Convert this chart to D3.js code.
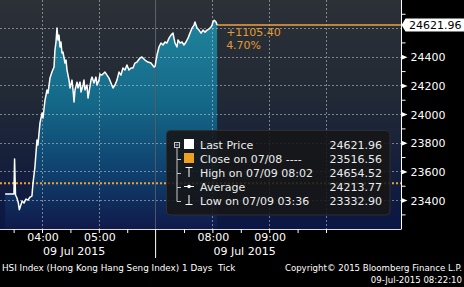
<!DOCTYPE html>
<html><head><meta charset="utf-8">
<script src="https://cdn.jsdelivr.net/npm/d3@7"></script>
<style>html,body{margin:0;padding:0;background:#000;overflow:hidden}svg{display:block}</style>
</head><body><svg id="c" width="464" height="287"></svg>
<script>
// ---- data ----
const morningTimes = ["03:21:00","03:30:20","03:31:00","03:32:00","03:33:30","03:35:00","03:36:00","03:39:00","03:41:00","03:43:00","03:45:10","03:47:20","03:49:20","03:50:30","03:52:30","03:54:40","03:55:40","03:57:50","04:00:00","04:01:00","04:03:10","04:05:15","04:06:20","04:08:25","04:10:30","04:12:40","04:13:40","04:14:45","04:15:50","04:16:50","04:17:55","04:19:00","04:20:00","04:21:05","04:22:10","04:24:15","04:25:20","04:26:25","04:28:30","04:29:35","04:31:40","04:32:45","04:33:50","04:34:50","04:37:00","04:38:00","04:40:10","04:41:10","04:43:20","04:44:20","04:45:25","04:47:30","04:48:35","04:49:40","04:51:45","04:52:50","04:54:55","04:57:00","04:58:05","05:00:10","05:01:15","05:03:20","05:06:30","05:08:40","05:10:45","05:12:50","05:15:00","05:17:05","05:19:10","05:21:20","05:23:25","05:25:30","05:27:40","05:29:45","05:31:50","05:34:00","05:36:05","05:38:10","05:40:20","05:43:30","05:45:35","05:48:45","05:51:55","05:55:05","05:58:15","05:59:30"];
const morningPrices = [23442,23442,23686,23435,23414,23379,23332.9,23393,23379,23407,23400,23421,23428,23519,23630,23819,23784,23937,24007,23972,24098,24168,24146,24251,24293,24328,24447,24503,24600,24517,24551,24468,24503,24426,24433,24356,24377,24307,24237,24182,24237,24168,24084,24168,24223,24182,24223,24154,24203,24237,24168,24203,24112,24154,24237,24258,24217,24258,24203,24237,24279,24272,24293,24272,24251,24217,24182,24203,24237,24293,24272,24321,24307,24342,24307,24321,24321,24356,24363,24391,24398,24377,24363,24356,24328,24335];
const afternoonTimes = ["07:00:30","07:01:30","07:03:35","07:05:40","07:07:50","07:09:55","07:12:00","07:14:10","07:16:15","07:18:25","07:19:25","07:20:30","07:22:35","07:23:40","07:25:45","07:27:55","07:30:00","07:32:05","07:34:15","07:36:20","07:38:30","07:40:35","07:41:35","07:43:45","07:45:50","07:48:00","07:50:05","07:52:10","07:54:20","07:56:25","07:58:30","07:59:35","08:00:35","08:02:00","08:03:50","08:05:00"];
const afternoonPrices = [24377,24412,24468,24496,24482,24503,24496,24530,24551,24565,24530,24496,24468,24517,24496,24503,24482,24503,24530,24565,24600,24621,24642,24600,24586,24565,24586,24572,24586,24593,24607,24621,24642,24654.52,24642,24621.96];

const prevClose = 23516.56;
const lastPrice = 24621.96;
const changeLabels = ["+1105.40", "4.70%"];
const yMajorTicks = [23400,23600,23800,24000,24200,24400,24600];
const yMinorTicks = [23300,23500,23700,23900,24100,24300,24500,24700];
const xGridTimes = ["04:00:00","05:00:00","08:00:00","09:00:00","10:00:00"];
const xTickTimes = ["03:30:00","04:00:00","04:30:00","05:00:00","05:30:00","07:30:00","08:00:00","08:30:00","09:00:00","09:30:00","10:00:00"];
const xLabelTimes = ["04:00:00","05:00:00","08:00:00","09:00:00"];
const xLabels = ["04:00","05:00","08:00","09:00"];
const dateLabelTimes = ["04:00:00","08:00:00"];
const dateLabel = "09 Jul 2015";
const legendLabels = ["Last Price","Close on 07/08 ----","High on 07/09 08:02","Average","Low on 07/09 03:36"];
const legendValues = ["24621.96","23516.56","24654.52","24213.77","23332.90"];
const footerLeft = "HSI Index (Hong Kong Hang Seng Index) 1 Days  Tick";
const footerRight = ["Copyright\u00A9 2015 Bloomberg Finance L.P.","09-Jul-2015 08:22:10"];

// ---- setup ----
const svg = d3.select("#c");
const FONT = "'DejaVu Sans', Verdana, sans-serif";
const PB = 229, PR = 401.5;
const parse = d3.timeParse("%H:%M:%S");
const x = d3.scaleTime()
  .domain([parse("03:15:36"), parse("06:00:00"), parse("07:00:00"), parse("11:20:18")])
  .range([0, 155.6, 155.6, 402]);
const y = d3.scaleLinear().domain([23198, 24796]).range([PB, 0]);

const morning = morningTimes.map((t,i)=>({t:parse(t), v:morningPrices[i]}));
const afternoon = afternoonTimes.map((t,i)=>({t:parse(t), v:afternoonPrices[i]}));
const all = morning.concat(afternoon);
const last = afternoon[afternoon.length-1];

svg.append("rect").attr("width",464).attr("height",287).attr("fill","#000");

const defs = svg.append("defs");
const bg = defs.append("linearGradient").attr("id","bg").attr("gradientUnits","userSpaceOnUse")
  .attr("x1",0).attr("y1",0).attr("x2",0).attr("y2",PB);
[[0,"#2c3037"],[0.4,"#222a35"],[0.75,"#141e3c"],[1,"#0a1745"]].forEach(s=>bg.append("stop").attr("offset",s[0]).attr("stop-color",s[1]));
const fg = defs.append("linearGradient").attr("id","fg").attr("gradientUnits","userSpaceOnUse")
  .attr("x1",0).attr("y1",0).attr("x2",0).attr("y2",PB);
[[0,"#228aa0"],[0.45,"#146888"],[0.75,"#0f416e"],[1,"#101a4a"]].forEach(s=>fg.append("stop").attr("offset",s[0]).attr("stop-color",s[1]));
defs.append("clipPath").attr("id","clip").append("rect").attr("x",0).attr("y",0).attr("width",PR).attr("height",PB);

const g = svg.append("g").attr("clip-path","url(#clip)");
g.append("rect").attr("x",0).attr("y",0).attr("width",PR).attr("height",PB).attr("fill","url(#bg)");
// session break line
g.append("line").attr("x1",x(parse("06:00:00"))).attr("x2",x(parse("06:00:00"))).attr("y1",0).attr("y2",PB)
  .attr("stroke","#5f646c").attr("stroke-width",1);

const area = d3.area().x(d=>x(d.t)).y0(PB).y1(d=>y(d.v));
g.append("path").datum(morning).attr("d",area).attr("fill","url(#fg)");
g.append("path").datum(afternoon).attr("d",area).attr("fill","url(#fg)");

// grid
g.selectAll(".hg").data(yMajorTicks).join("line")
  .attr("x1",0).attr("x2",PR).attr("y1",d=>Math.round(y(d))+0.5).attr("y2",d=>Math.round(y(d))+0.5)
  .attr("stroke","rgba(200,205,210,0.55)").attr("stroke-dasharray","2,2");
g.selectAll(".vg").data(xGridTimes).join("line")
  .attr("x1",d=>Math.round(x(parse(d)))+0.5).attr("x2",d=>Math.round(x(parse(d)))+0.5).attr("y1",0).attr("y2",PB)
  .attr("stroke","rgba(200,205,210,0.55)").attr("stroke-dasharray","2,2");

// previous close
g.append("line").attr("x1",0).attr("x2",PR).attr("y1",y(prevClose)).attr("y2",y(prevClose))
  .attr("stroke","#f0a030").attr("stroke-width",2).attr("stroke-dasharray","2,2");

// last price line
g.append("line").attr("x1",x(last.t)).attr("x2",PR).attr("y1",y(lastPrice)).attr("y2",y(lastPrice))
  .attr("stroke","#f2a23a").attr("stroke-width",1.6);

// price line
g.append("path").datum(all).attr("d",d3.line().x(d=>x(d.t)).y(d=>y(d.v)))
  .attr("fill","none").attr("stroke","#ffffff").attr("stroke-width",1.5).attr("stroke-linejoin","round");

changeLabels.forEach((t,i)=>{
  svg.append("text").attr("x",x(last.t)+9).attr("y",36+i*13).attr("fill","#e39b32")
    .attr("font-family",FONT).attr("font-size",11).text(t);
});

// right axis
svg.append("line").attr("x1",PR).attr("x2",PR).attr("y1",0).attr("y2",PB).attr("stroke","#fff").attr("stroke-width",1);
const minorAx = svg.append("g").attr("transform",`translate(${PR},0)`)
  .call(d3.axisRight(y).tickValues(yMinorTicks).tickSize(4).tickFormat(""));
minorAx.select(".domain").remove();
minorAx.selectAll("line").attr("stroke","#fff");
const majorAx = svg.append("g").attr("transform",`translate(${PR},0)`)
  .call(d3.axisRight(y).tickValues(yMajorTicks.filter(v=>v!==24600)).tickSize(0).tickPadding(9).tickFormat(d3.format("d")));
majorAx.select(".domain").remove();
majorAx.selectAll("text").attr("fill","#fff").attr("font-family",FONT).attr("font-size",11).attr("dy","0.36em");
majorAx.selectAll(".tick").append("path").attr("d","M0,-2.5L6,0L0,2.5Z").attr("fill","#fff");

// last price tag
const ly = y(lastPrice);
svg.append("path").attr("d",`M${PR},${ly}L${PR+4},${ly-6.5}L464,${ly-6.5}L464,${ly+6.5}L${PR+4},${ly+6.5}Z`).attr("fill","#fff");
svg.append("text").attr("x",PR+7.5).attr("y",ly).attr("dy","0.36em").attr("fill","#000")
  .attr("font-family",FONT).attr("font-size",11).text(lastPrice.toFixed(2));

// bottom axis
svg.append("line").attr("x1",0).attr("x2",PR).attr("y1",PB+0.5).attr("y2",PB+0.5).attr("stroke","#ddd");
const xAx = svg.append("g").attr("transform",`translate(0,${PB})`)
  .call(d3.axisBottom(x).tickValues(xTickTimes.map(parse)).tickSize(4).tickFormat(""));
xAx.select(".domain").remove();
xAx.selectAll("line").attr("stroke","#fff");
svg.append("line").attr("x1",x(parse("06:00:00"))).attr("x2",x(parse("06:00:00"))).attr("y1",PB).attr("y2",258).attr("stroke","#fff");
svg.selectAll(".xl").data(xLabelTimes).join("text")
  .attr("x",d=>x(parse(d))+1).attr("y",241).attr("text-anchor","middle").attr("fill","#fff")
  .attr("font-family",FONT).attr("font-size",11).text((d,i)=>xLabels[i]);
svg.selectAll(".dl").data(dateLabelTimes).join("text")
  .attr("x",d=>x(parse(d))+1).attr("y",255).attr("fill","#fff")
  .attr("font-family",FONT).attr("font-size",11).text(dateLabel);

// footer
svg.append("text").attr("x",2).attr("y",271).attr("fill","#fff").attr("font-family",FONT).attr("font-size",8.8)
  .attr("xml:space","preserve").style("white-space","pre").text(footerLeft);
footerRight.forEach((t,i)=>svg.append("text").attr("x",462).attr("y",271+i*12).attr("text-anchor","end")
  .attr("fill","#fff").attr("font-family",FONT).attr("font-size",8.6).text(t));

// legend
const L = svg.append("g");
L.append("rect").attr("x",166.5).attr("y",130.5).attr("width",223.5).attr("height",84.5).attr("rx",4)
  .attr("fill","rgba(22,22,22,0.88)").attr("stroke","#2e2e2e");
const rowY = i => 149 + i*14;
const tc = "#c8c8c8";
// tree
L.append("rect").attr("x",174.5).attr("y",142.5).attr("width",5).attr("height",5).attr("fill","none").attr("stroke",tc);
L.append("line").attr("x1",175.5).attr("x2",178.5).attr("y1",145).attr("y2",145).attr("stroke",tc);
L.append("line").attr("x1",177).attr("x2",177).attr("y1",148).attr("y2",rowY(4)-3.5).attr("stroke",tc);
L.selectAll(".br").data([1,2,3,4]).join("line").attr("x1",177).attr("x2",181).attr("y1",i=>rowY(i)-3.5).attr("y2",i=>rowY(i)-3.5).attr("stroke",tc);
// icons
L.append("rect").attr("x",184).attr("y",rowY(0)-10).attr("width",10).attr("height",10).attr("fill","#fff");
L.append("rect").attr("x",184).attr("y",rowY(1)-10).attr("width",10).attr("height",10).attr("fill","#f0a020");
L.append("path").attr("d",`M185.5,${rowY(2)-9.5}H192.5M189,${rowY(2)-9.5}V${rowY(2)}`).attr("stroke","#fff").attr("fill","none");
L.append("path").attr("d",`M184,${rowY(3)-4.5}H194`).attr("stroke","#fff");
L.append("circle").attr("cx",189).attr("cy",rowY(3)-4.5).attr("r",1.8).attr("fill","#fff");
L.append("path").attr("d",`M185.5,${rowY(4)-0.5}H192.5M189,${rowY(4)-10}V${rowY(4)-0.5}`).attr("stroke","#fff").attr("fill","none");
L.selectAll(".lt").data(legendLabels).join("text").attr("x",200).attr("y",(d,i)=>rowY(i))
  .attr("fill","#ececec").attr("font-family",FONT).attr("font-size",11).text(d=>d);
L.selectAll(".lv").data(legendValues).join("text").attr("x",382).attr("y",(d,i)=>rowY(i)).attr("text-anchor","end")
  .attr("fill","#ececec").attr("font-family",FONT).attr("font-size",11).text(d=>d);
</script></body></html>
